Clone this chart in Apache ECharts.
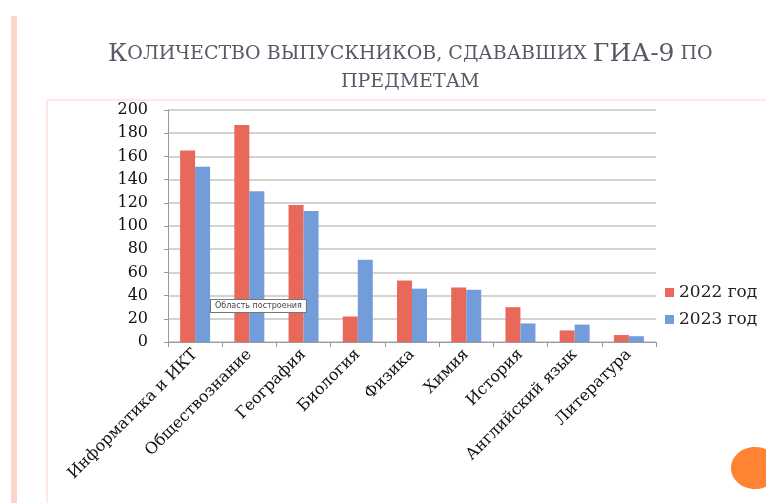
<!DOCTYPE html>
<html>
<head>
<meta charset="utf-8">
<script src="https://cdn.jsdelivr.net/npm/echarts@6/dist/echarts.min.js"></script>
<style>html,body{margin:0;padding:0;background:#fff;}#c{width:766px;height:503px;}</style>
</head>
<body>
<div id="c"></div>
<script>
const categories = ['Информатика и ИКТ','Обществознание','География','Биология','Физика','Химия','История','Английский язык','Литература'];
const series2022 = [165, 187, 118, 22, 53, 47, 30, 10, 6];
const series2023 = [151, 130, 113, 71, 46, 45, 16, 15, 5];
const seriesNames = ['2022 год', '2023 год'];
const yMin = 0, yMax = 200, yStep = 20;

const chart = echarts.init(document.getElementById('c'), null, {renderer: 'canvas'});
const serif = 'DejaVu Serif';
const titleRich = {
  b: {fontFamily: serif, fontWeight: 'normal', fontSize: 25, color: '#555a66', lineHeight: 28},
  s: {fontFamily: serif, fontWeight: 'normal', fontSize: 19, color: '#555a66', lineHeight: 28}
};
chart.setOption({
  animation: false,
  title: [
    {
      left: 103, top: 35,
      text: '{b|К}{s|ОЛИЧЕСТВО ВЫПУСКНИКОВ, СДАВАВШИХ }{b|ГИА-9}{s| ПО}',
      textStyle: {fontFamily: serif, fontWeight: 'normal', color: '#555a66', lineHeight: 28, rich: titleRich}
    },
    {
      left: 336, top: 63,
      text: '{s|ПРЕДМЕТАМ}',
      textStyle: {fontFamily: serif, fontWeight: 'normal', color: '#555a66', lineHeight: 28, rich: titleRich}
    }
  ],
  grid: {left: 168, right: 110, top: 110, bottom: 161, containLabel: false},
  legend: {
    orient: 'vertical', left: 660, top: 279, itemWidth: 9, itemHeight: 9, itemGap: 10,
    icon: 'rect',
    textStyle: {fontFamily: serif, fontSize: 17, color: '#222'},
    data: seriesNames
  },
  xAxis: {
    type: 'category', data: categories,
    axisLine: {lineStyle: {color: '#9a9a9a'}},
    axisTick: {show: true, alignWithLabel: false, length: 5, lineStyle: {color: '#9a9a9a'}},
    axisLabel: {rotate: 45, interval: 0, fontFamily: serif, fontSize: 16, color: '#111', margin: 10}
  },
  yAxis: {
    type: 'value', min: yMin, max: yMax, interval: yStep,
    axisLine: {show: true, lineStyle: {color: '#9a9a9a'}},
    axisTick: {show: true, length: 4, lineStyle: {color: '#9a9a9a'}},
    splitLine: {lineStyle: {color: '#c4c4c4', width: 1.5}},
    axisLabel: {fontFamily: serif, fontSize: 16, color: '#111', margin: 20}
  },
  series: [
    {name: seriesNames[0], type: 'bar', data: series2022, barWidth: 15, barGap: '0%', itemStyle: {color: '#E8695A'}},
    {name: seriesNames[1], type: 'bar', data: series2023, barWidth: 15, itemStyle: {color: '#739CDA'}}
  ],
  graphic: [
    {type: 'rect', shape: {x: 11, y: 16, width: 6, height: 487}, style: {fill: '#FDD5C8'}},
    {type: 'line', shape: {x1: 47, y1: 100, x2: 766, y2: 100}, style: {stroke: '#FCE2D6', lineWidth: 1.5}},
    {type: 'line', shape: {x1: 47, y1: 100, x2: 47, y2: 503}, style: {stroke: '#FCE2D6', lineWidth: 1.5}},
    {type: 'ellipse', shape: {cx: 755, cy: 468, rx: 24, ry: 21}, style: {fill: '#FE8434'}},
    {type: 'text', left: 210, top: 299, z: 100,
      style: {text: 'Область построения', font: '8px "DejaVu Sans", sans-serif', fill: '#444',
        backgroundColor: '#fff', borderColor: '#777', borderWidth: 1, padding: [2, 4, 2, 4]}}
  ]
});
</script>
</body>
</html>
